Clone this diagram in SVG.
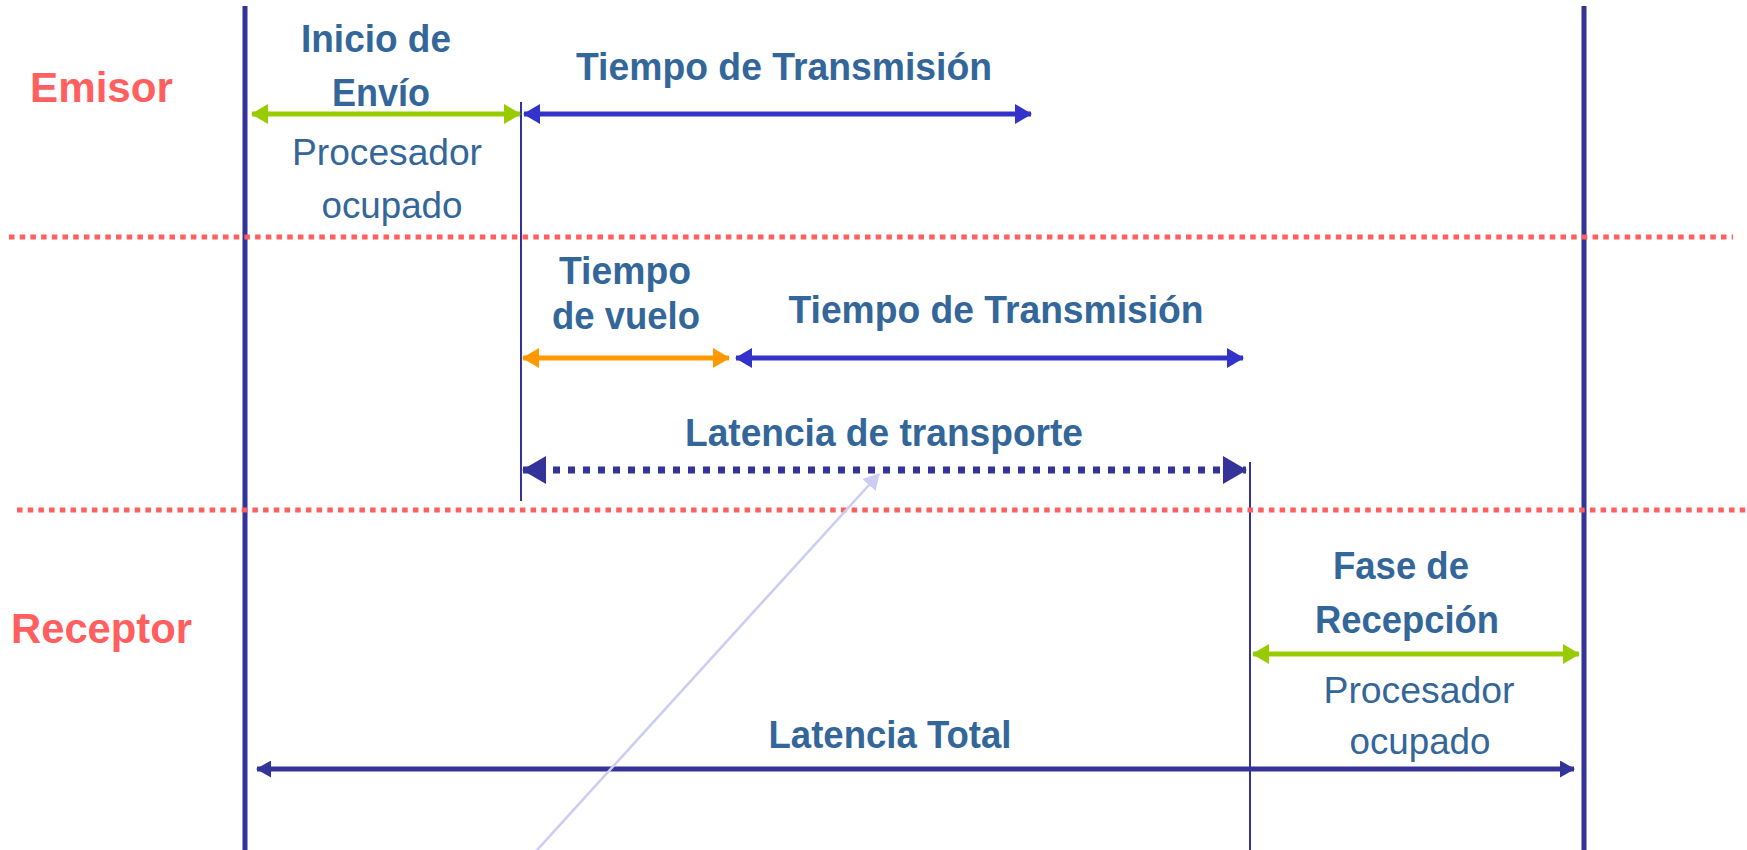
<svg xmlns="http://www.w3.org/2000/svg" width="1747" height="850" viewBox="0 0 1747 850">
<style>
.lbl{font-family:"Liberation Sans",Arial,sans-serif;font-weight:bold;font-size:38px;fill:#336699;text-anchor:middle}
.reg{font-family:"Liberation Sans",Arial,sans-serif;font-size:36px;fill:#336699;text-anchor:middle}
.side{font-family:"Liberation Sans",Arial,sans-serif;font-weight:bold;font-size:42px;fill:#FF5F5F}
.sep{stroke:#FF5F5F;stroke-width:5;stroke-dasharray:5.5 5.2;fill:none}
.thick{stroke:#333399;stroke-width:5;fill:none}
.thin{stroke:#333399;stroke-width:2;fill:none}
</style>
<defs>
<marker id="gE" viewBox="0 0 17 20" refX="16" refY="10" markerWidth="17" markerHeight="20" markerUnits="userSpaceOnUse" orient="auto"><path d="M0,0 L17,10 L0,20 Z" fill="#99CC00"/></marker>
<marker id="gS" viewBox="0 0 17 20" refX="1" refY="10" markerWidth="17" markerHeight="20" markerUnits="userSpaceOnUse" orient="auto"><path d="M17,0 L0,10 L17,20 Z" fill="#99CC00"/></marker>
<marker id="bE" viewBox="0 0 17 20" refX="16" refY="10" markerWidth="17" markerHeight="20" markerUnits="userSpaceOnUse" orient="auto"><path d="M0,0 L17,10 L0,20 Z" fill="#3333CC"/></marker>
<marker id="bS" viewBox="0 0 17 20" refX="1" refY="10" markerWidth="17" markerHeight="20" markerUnits="userSpaceOnUse" orient="auto"><path d="M17,0 L0,10 L17,20 Z" fill="#3333CC"/></marker>
<marker id="oE" viewBox="0 0 17 20" refX="16" refY="10" markerWidth="17" markerHeight="20" markerUnits="userSpaceOnUse" orient="auto"><path d="M0,0 L17,10 L0,20 Z" fill="#FF9900"/></marker>
<marker id="oS" viewBox="0 0 17 20" refX="1" refY="10" markerWidth="17" markerHeight="20" markerUnits="userSpaceOnUse" orient="auto"><path d="M17,0 L0,10 L17,20 Z" fill="#FF9900"/></marker>
<marker id="dE" viewBox="0 0 24 28" refX="23" refY="14" markerWidth="24" markerHeight="28" markerUnits="userSpaceOnUse" orient="auto"><path d="M0,0 L24,14 L0,28 Z" fill="#333399"/></marker>
<marker id="dS" viewBox="0 0 24 28" refX="1" refY="14" markerWidth="24" markerHeight="28" markerUnits="userSpaceOnUse" orient="auto"><path d="M24,0 L0,14 L24,28 Z" fill="#333399"/></marker>
<marker id="tE" viewBox="0 0 15 17" refX="14" refY="8.5" markerWidth="15" markerHeight="17" markerUnits="userSpaceOnUse" orient="auto"><path d="M0,0 L15,8.5 L0,17 Z" fill="#333399"/></marker>
<marker id="tS" viewBox="0 0 15 17" refX="1" refY="8.5" markerWidth="15" markerHeight="17" markerUnits="userSpaceOnUse" orient="auto"><path d="M15,0 L0,8.5 L15,17 Z" fill="#333399"/></marker>
<marker id="pE" viewBox="0 0 16 18" refX="15" refY="9" markerWidth="16" markerHeight="18" markerUnits="userSpaceOnUse" orient="auto"><path d="M0,0 L16,9 L0,18 Z" fill="#CCCCF5"/></marker>
</defs>

<g id="timelines">
<line class="thick" x1="245" y1="6" x2="245" y2="850"/>
<line class="thick" x1="1584" y1="6" x2="1584" y2="850"/>
<line class="thin" x1="521" y1="102" x2="521" y2="501"/>
<line class="thin" x1="1250" y1="462" x2="1250" y2="850"/>
</g>

<g id="separators">
<line class="sep" x1="9" y1="237" x2="1733" y2="237"/>
<line class="sep" x1="17" y1="510" x2="1747" y2="510"/>
</g>

<g id="emisor"><text class="side" x="30" y="102" textLength="143" lengthAdjust="spacingAndGlyphs">Emisor</text></g>
<g id="receptor"><text class="side" x="11" y="643" textLength="181" lengthAdjust="spacingAndGlyphs">Receptor</text></g>

<g id="inicio-envio">
<text class="lbl" x="376" y="52" textLength="150" lengthAdjust="spacingAndGlyphs">Inicio de</text>
<text class="lbl" x="381" y="106" textLength="98" lengthAdjust="spacingAndGlyphs">Envío</text>
<text class="reg" x="387" y="165" textLength="190" lengthAdjust="spacingAndGlyphs">Procesador</text>
<text class="reg" x="392" y="218" textLength="141" lengthAdjust="spacingAndGlyphs">ocupado</text>
</g>

<g id="tx-emisor">
<text class="lbl" x="784" y="80" textLength="416" lengthAdjust="spacingAndGlyphs">Tiempo de Transmisión</text>
</g>

<g id="vuelo">
<text class="lbl" x="625" y="284" textLength="132" lengthAdjust="spacingAndGlyphs">Tiempo</text>
<text class="lbl" x="626" y="329" textLength="148" lengthAdjust="spacingAndGlyphs">de vuelo</text>
</g>

<g id="tx-red">
<text class="lbl" x="996" y="323" textLength="415" lengthAdjust="spacingAndGlyphs">Tiempo de Transmisión</text>
</g>

<g id="latencia-transporte">
<text class="lbl" x="884" y="446" textLength="398" lengthAdjust="spacingAndGlyphs">Latencia de transporte</text>
</g>

<g id="recepcion">
<text class="lbl" x="1401" y="579" textLength="136" lengthAdjust="spacingAndGlyphs">Fase de</text>
<text class="lbl" x="1407" y="633" textLength="184" lengthAdjust="spacingAndGlyphs">Recepción</text>
<text class="reg" x="1419" y="703" textLength="191" lengthAdjust="spacingAndGlyphs">Procesador</text>
<text class="reg" x="1420" y="754" textLength="141" lengthAdjust="spacingAndGlyphs">ocupado</text>
</g>

<g id="latencia-total">
<text class="lbl" x="890" y="748" textLength="243" lengthAdjust="spacingAndGlyphs">Latencia Total</text>
</g>

<g id="connectors">
<line x1="252" y1="114" x2="520" y2="114" stroke="#99CC00" stroke-width="5" marker-start="url(#gS)" marker-end="url(#gE)"/>
<line x1="524" y1="114" x2="1031" y2="114" stroke="#3333CC" stroke-width="5" marker-start="url(#bS)" marker-end="url(#bE)"/>
<line x1="523" y1="358" x2="729" y2="358" stroke="#FF9900" stroke-width="5" marker-start="url(#oS)" marker-end="url(#oE)"/>
<line x1="736" y1="358" x2="1243" y2="358" stroke="#3333CC" stroke-width="5" marker-start="url(#bS)" marker-end="url(#bE)"/>
<line x1="523" y1="470" x2="1246" y2="470" stroke="#333399" stroke-width="7" stroke-dasharray="7 8" marker-start="url(#dS)" marker-end="url(#dE)"/>
<line x1="1253" y1="654" x2="1579" y2="654" stroke="#99CC00" stroke-width="5" marker-start="url(#gS)" marker-end="url(#gE)"/>
<line x1="257" y1="769" x2="1574" y2="769" stroke="#333399" stroke-width="5" marker-start="url(#tS)" marker-end="url(#tE)"/>
<line x1="528" y1="860" x2="879" y2="474" stroke="#CCCCF5" stroke-width="2.5" marker-end="url(#pE)"/>
</g>
</svg>
